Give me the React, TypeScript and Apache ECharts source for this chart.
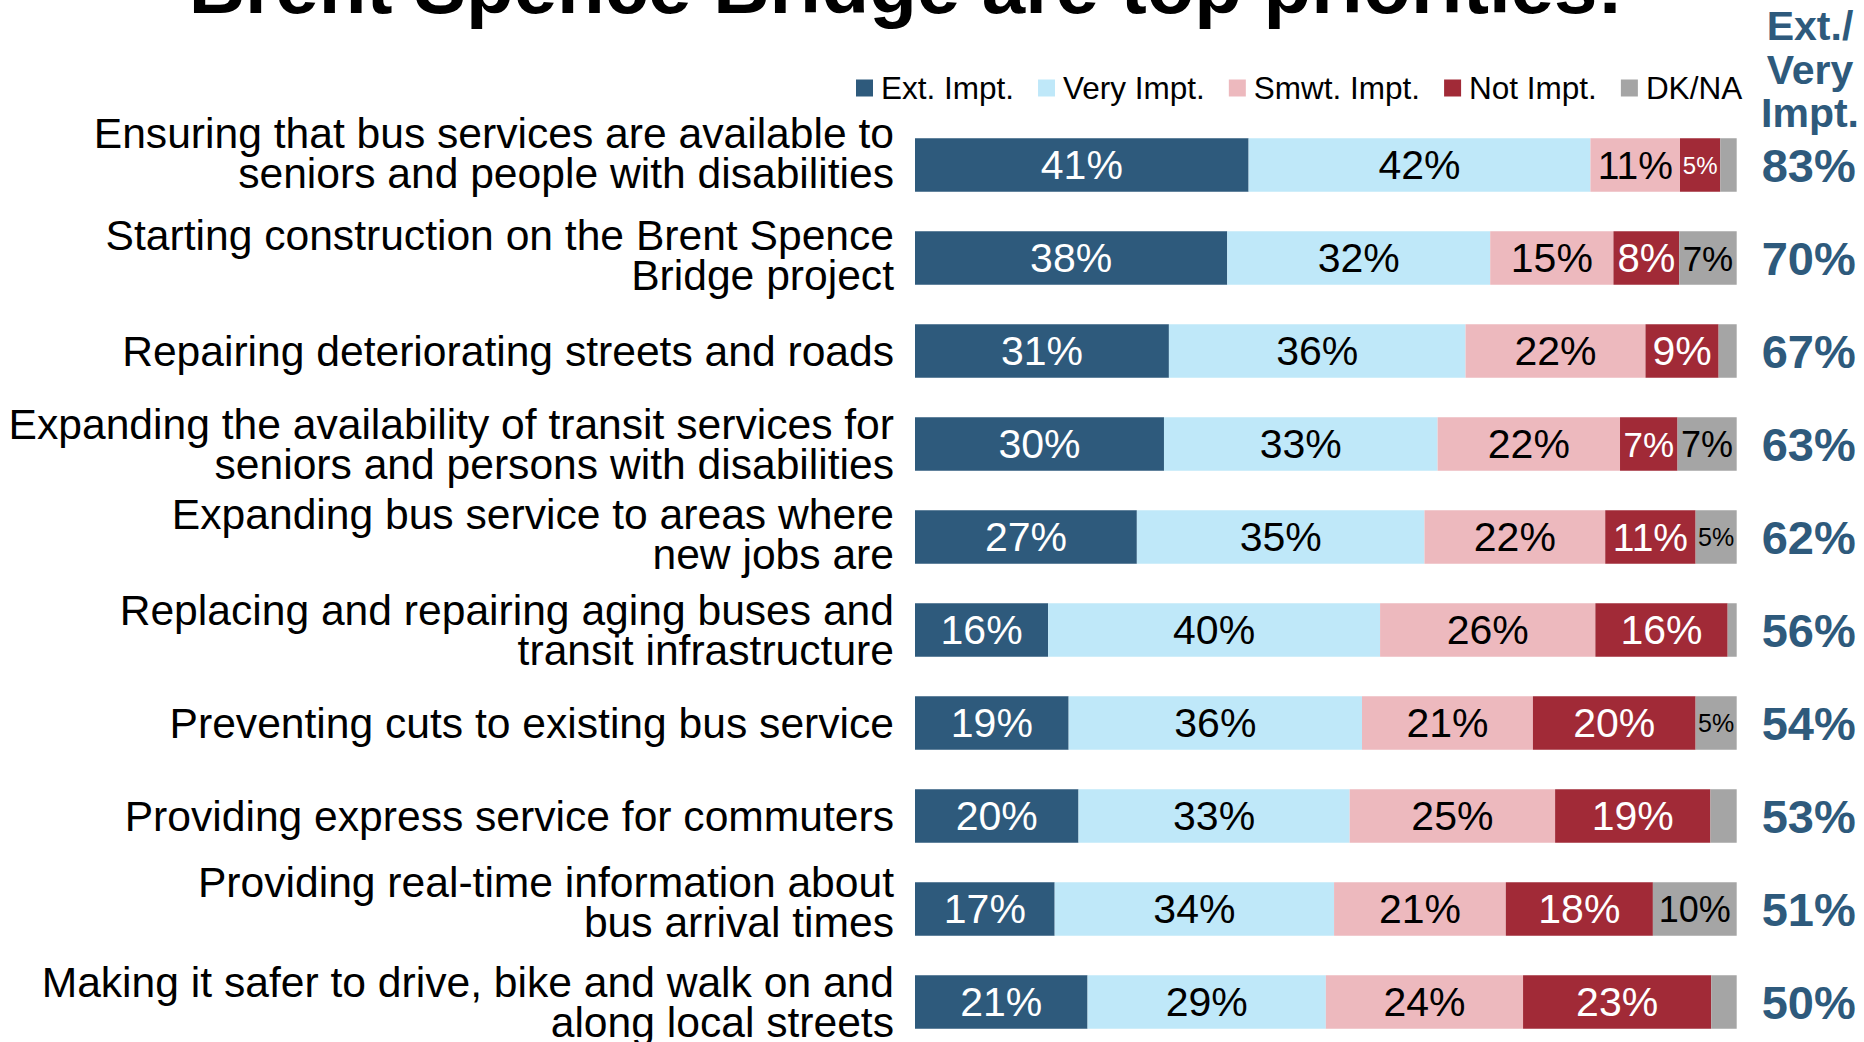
import React, { useEffect, useRef } from "react";
import * as echarts from "echarts";

const categories = [
  "Ensuring that bus services are available to\nseniors and people with disabilities",
  "Starting construction on the Brent Spence\nBridge project",
  "Repairing deteriorating streets and roads",
  "Expanding the availability of transit services for\nseniors and persons with disabilities",
  "Expanding bus service to areas where\nnew jobs are",
  "Replacing and repairing aging buses and\ntransit infrastructure",
  "Preventing cuts to existing bus service",
  "Providing express service for commuters",
  "Providing real-time information about\nbus arrival times",
  "Making it safer to drive, bike and walk on and\nalong local streets",
];

const seriesNames = ["Ext. Impt.", "Very Impt.", "Smwt. Impt.", "Not Impt.", "DK/NA"];
const extImpt = [40.6, 38.0, 30.9, 30.3, 27.0, 16.2, 18.7, 19.9, 17.0, 21.0];
const veryImpt = [41.6, 32.0, 36.1, 33.3, 35.0, 40.4, 35.7, 33.0, 34.0, 29.0];
const smwtImpt = [10.9, 15.0, 21.9, 22.2, 22.0, 26.2, 20.8, 25.0, 20.9, 24.0];
const notImpt = [4.9, 8.0, 8.9, 7.0, 11.0, 16.1, 19.8, 18.9, 17.9, 22.9];
const dkNa = [2.0, 7.0, 2.2, 7.2, 5.0, 1.1, 5.0, 3.2, 10.2, 3.1];
const netExtVery = ["83%", "70%", "67%", "63%", "62%", "56%", "54%", "53%", "51%", "50%"];
const netHeader = "Ext./\nVery\nImpt.";
const titleText = "Brent Spence Bridge are top priorities!";

const COLORS = ["#2E5A7C", "#BFE8F9", "#EDB9BE", "#A12A37", "#A5A5A5"];
const LABEL_COLORS = ["#FFFFFF", "#000000", "#000000", "#FFFFFF", "#000000"];
const FONT = "'Liberation Sans', Arial, Helvetica, sans-serif";

const GRID_LEFT = 915;
const GRID_WIDTH = 821.7;
const GRID_TOP = 118.5;
const GRID_HEIGHT = 930;
// layout tweak: how many px some category labels sit above their bar's centre
const LABEL_RAISE: Record<number, number> = { 0: 12, 1: 3, 4: 3, 8: 7 };

function labelWidthEm(text: string) {
  let w = 0;
  for (const ch of text) w += ch === "%" ? 0.889 : 0.556;
  return w;
}

export default function App() {
  const ref = useRef<HTMLDivElement>(null);

  useEffect(() => {
    if (!ref.current) return;
    const chart = echarts.init(ref.current, undefined, { renderer: "svg" });
    const all = [extImpt, veryImpt, smwtImpt, notImpt, dkNa];

    const series = all.map((vals, si) => ({
      name: seriesNames[si],
      type: "bar",
      stack: "total",
      barWidth: 53.5,
      yAxisIndex: 0,
      itemStyle: { color: COLORS[si] },
      emphasis: { disabled: true },
      data: vals.map((v) => {
        const txt = Math.round(v) + "%";
        const segPx = (v / 100) * GRID_WIDTH;
        const fs = Math.min(41, Math.floor((segPx * 0.88) / labelWidthEm(txt)));
        return {
          value: v,
          label: {
            show: v >= 4,
            position: "inside",
            formatter: txt,
            color: LABEL_COLORS[si],
            fontSize: fs,
            fontFamily: FONT,
          },
        };
      }),
    }));

    const rich: Record<string, any> = {
      a: { fontSize: 42.6, lineHeight: 40, color: "#000", fontFamily: FONT },
    };
    Object.keys(LABEL_RAISE).forEach((k) => {
      rich["s" + k] = { fontSize: 2, lineHeight: LABEL_RAISE[+k] * 2, fontFamily: FONT };
    });

    chart.setOption({
      animation: false,
      backgroundColor: "#ffffff",
      legend: {
        left: 851,
        top: 67,
        itemWidth: 17,
        itemHeight: 17,
        itemGap: 24,
        icon: "rect",
        data: seriesNames,
        textStyle: { fontSize: 31.5, fontFamily: FONT, color: "#000", padding: [0, 0, 0, 3] },
        selectedMode: false,
      },
      grid: {
        left: GRID_LEFT,
        top: GRID_TOP,
        width: GRID_WIDTH,
        height: GRID_HEIGHT,
        containLabel: false,
        outerBoundsMode: "none",
      },
      xAxis: { type: "value", min: 0, max: 100, show: false },
      yAxis: [
        {
          type: "category",
          inverse: true,
          data: categories,
          axisLine: { show: false },
          axisTick: { show: false },
          axisLabel: {
            margin: 21,
            interval: 0,
            showMinLabel: true,
            showMaxLabel: true,
            fontSize: 42.6,
            lineHeight: 40,
            color: "#000",
            fontFamily: FONT,
            align: "right",
            formatter: (value: string, index: number) =>
              LABEL_RAISE[index]
                ? value
                    .split("\n")
                    .map((l) => "{a|" + l + "}")
                    .join("\n") + "\n{s" + index + "| }"
                : value,
            rich,
          },
        },
        {
          type: "category",
          inverse: true,
          position: "right",
          data: netExtVery,
          axisLine: { show: false },
          axisTick: { show: false },
          axisLabel: {
            margin: 25,
            interval: 0,
            showMinLabel: true,
            showMaxLabel: true,
            fontSize: 47,
            fontWeight: "bold",
            color: "#2E5A7C",
            fontFamily: FONT,
            align: "left",
          },
        },
      ],
      graphic: [
        {
          type: "text",
          x: 906,
          y: -14,
          style: {
            text: titleText,
            fontSize: 78,
            fontWeight: "bold",
            fontFamily: FONT,
            fill: "#000",
            align: "center",
            verticalAlign: "middle",
          },
        },
        {
          type: "text",
          x: 1810,
          y: 69.5,
          style: {
            text: netHeader,
            fontSize: 41,
            lineHeight: 43.5,
            fontWeight: "bold",
            fontFamily: FONT,
            fill: "#2E5A7C",
            align: "center",
            verticalAlign: "middle",
          },
        },
      ],
      series,
    });

    return () => chart.dispose();
  }, []);

  return (
    <div
      ref={ref}
      style={{ position: "absolute", left: 0, top: 0, width: 1864, height: 1042 }}
    />
  );
}
